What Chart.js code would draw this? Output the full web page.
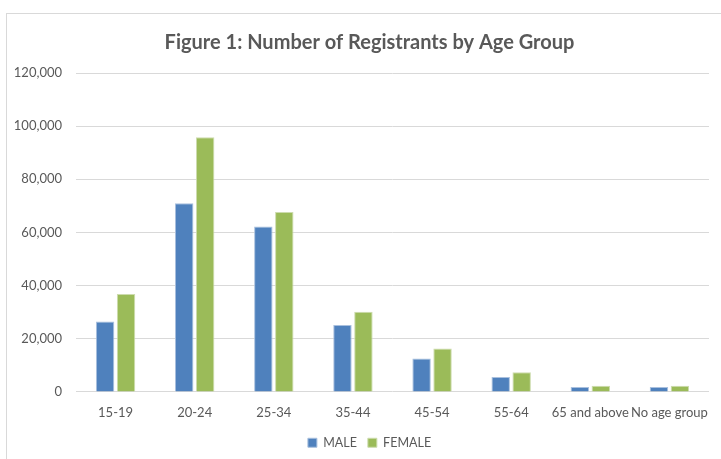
<!DOCTYPE html>
<html>
<head>
<meta charset="utf-8">
<script src="https://cdn.jsdelivr.net/npm/chart.js@4"></script>
<style>
  html, body { margin: 0; padding: 0; background: #fff; }
  #wrap { position: relative; width: 721px; height: 459px; overflow: hidden; }
  #frame { position: absolute; left: 6px; top: 13px; width: 760px; height: 500px;
           border-left: 1px solid #d9d9d9; border-top: 1px solid #d9d9d9; }
  #chart { position: absolute; left: 0; top: 0; }
</style>
</head>
<body>
<div id="wrap">
  <div id="frame"></div>
  <canvas id="chart" width="721" height="459"></canvas>
</div>
<script>
const ageGroups = ['15-19', '20-24', '25-34', '35-44', '45-54', '55-64', '65 and above', 'No age group'];
const maleValues = [26500, 71000, 62200, 25200, 12600, 5600, 1800, 1800];
const femaleValues = [36800, 95800, 67700, 30200, 16300, 7400, 2300, 2300];
const yTicks = [0, 20000, 40000, 60000, 80000, 100000, 120000];

const fontFamily = 'Lato, "Open Sans", sans-serif';
const textColor = '#595959';

// move title and legend a bit right, like in the original figure
const shiftBlocks = {
    id: 'shiftBlocks',
    afterLayout(chart) {
        [chart.titleBlock, chart.legend].forEach(b => {
            if (b) { b.left += 30; }
        });
    }
};

const ctx = document.getElementById('chart').getContext('2d');

new Chart(ctx, {
    type: 'bar',
    data: {
        labels: ageGroups,
        datasets: [{
            label: 'MALE',
            data: maleValues,
            backgroundColor: '#4f81bd',
            borderColor: '#a9c0de',
            borderWidth: 1,
            barPercentage: 0.88,
            categoryPercentage: 0.53
        }, {
            label: 'FEMALE',
            data: femaleValues,
            backgroundColor: '#9bbb59',
            borderColor: '#cddcae',
            borderWidth: 1,
            barPercentage: 0.88,
            categoryPercentage: 0.53
        }]
    },
    options: {
        responsive: false,
        animation: false,
        layout: { padding: { left: 0, right: 12, top: 31, bottom: 0 } },
        plugins: {
            title: {
                display: true,
                text: 'Figure 1: Number of Registrants by Age Group',
                color: textColor,
                font: { family: fontFamily, size: 20, weight: 'bold' },
                padding: { top: 0, bottom: 18 }
            },
            legend: {
                position: 'bottom',
                labels: {
                    color: textColor,
                    boxWidth: 9,
                    boxHeight: 9,
                    padding: 11,
                    font: { family: fontFamily, size: 12.5 }
                }
            },
            tooltip: { enabled: false }
        },
        scales: {
            x: {
                grid: { display: false },
                border: { display: false },
                ticks: {
                    color: textColor,
                    maxRotation: 0,
                    autoSkip: false,
                    padding: 5,
                    font: { family: fontFamily, size: 13 }
                }
            },
            y: {
                min: 0,
                max: 120000,
                afterFit: (scale) => { scale.width = 76; },
                afterBuildTicks: (scale) => { scale.ticks = yTicks.map(v => ({ value: v })); },
                grid: { color: '#d9d9d9', drawTicks: false, lineWidth: 1 },
                border: { display: false },
                ticks: {
                    color: textColor,
                    padding: 14,
                    font: { family: fontFamily, size: 13 },
                    callback: (value) => value.toLocaleString('en-US')
                }
            }
        }
    },
    plugins: [shiftBlocks]
});
</script>
</body>
</html>
